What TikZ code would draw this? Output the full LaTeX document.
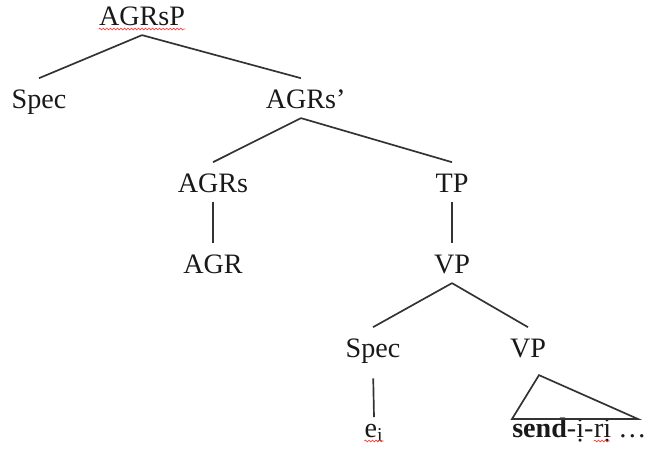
\documentclass[tikz,border=0pt]{standalone}
\usepackage{fontspec}
\setmainfont{Liberation Serif}
\usetikzlibrary{positioning, calc, decorations.pathmorphing}

\begin{document}
\begin{tikzpicture}[x=0.025cm, y=-0.025cm,
    cat/.style={font=\fontsize{20}{22}\selectfont, text=black!90, inner sep=0pt,
                text height=21pt, text depth=7pt, anchor=base},
    branch/.style={draw=black!80, line width=1.2pt},
    spell/.style={draw=red!75, line width=0.5pt, decorate,
                  decoration={snake, amplitude=0.6pt, segment length=2.5pt}}]
  \newcommand\spelldrop{4} % squiggle below the baseline

  \useasboundingbox (0, 0) rectangle (647, 449);

  \node[cat] at (142, 25) (agrsp) {AGRsP};
  \node[cat] at (39, 108) (spec1) {Spec};
  \node[cat] at (301, 108) (agrsbar) {AGRs\rlap{'}};
  \node[cat] at (213, 192) (agrs) {AGRs};
  \node[cat] at (452, 192) (tp) {TP};
  \node[cat] at (213, 273) (agr) {AGR};
  \node[cat] at (452, 273) (vp) {VP};
  \node[cat] at (373, 357) (spec2) {Spec};
  \node[cat] at (528, 357) (vp2) {VP};
  \node[cat, text height=14pt] at (374, 437) (trace) {e\textsubscript{i}};
  \node[cat, anchor=base west] at (512, 437) (send) {\textbf{send}-ị-};
  \node[cat, anchor=base west] at (send.base east) (ri) {rị \dots};

  \draw[branch] (agrsp.south) -- (spec1.north);
  \draw[branch] (agrsp.south) -- (agrsbar.north);
  \draw[branch] (agrsbar.south) -- (agrs.north);
  \draw[branch] (agrsbar.south) -- (tp.north);
  \draw[branch] (agrs.south) -- (agr.north);
  \draw[branch] (tp.south) -- (vp.north);
  \draw[branch] (vp.south) -- (spec2.north);
  \draw[branch] (vp.south) -- (vp2.north);
  \draw[branch, shorten <=8pt] (spec2.south) -- (trace.north);

  % roof over the lower VP
  \coordinate (roof-top) at ($(vp2.south)+(11, 8)$);
  \coordinate (roof-left) at ($(send.base west)+(0, -18)$);
  \coordinate (roof-right) at ($(send.base west)+(126, -18)$);
  \draw[branch] (roof-top) -- (roof-left) -- (roof-right) -- cycle;

  % spell-check marks
  \draw[spell] ($(agrsp.base west)+(0, \spelldrop)$) -- ($(agrsp.base east)+(0, \spelldrop)$);
  \draw[spell] ($(trace.base west)+(0, \spelldrop)$) -- ($(trace.base east)+(0, \spelldrop)$);
  \draw[spell] ($(ri.base west)+(0, \spelldrop)$) -- ($(ri.base west)+(16, \spelldrop)$);
\end{tikzpicture}
\end{document}
